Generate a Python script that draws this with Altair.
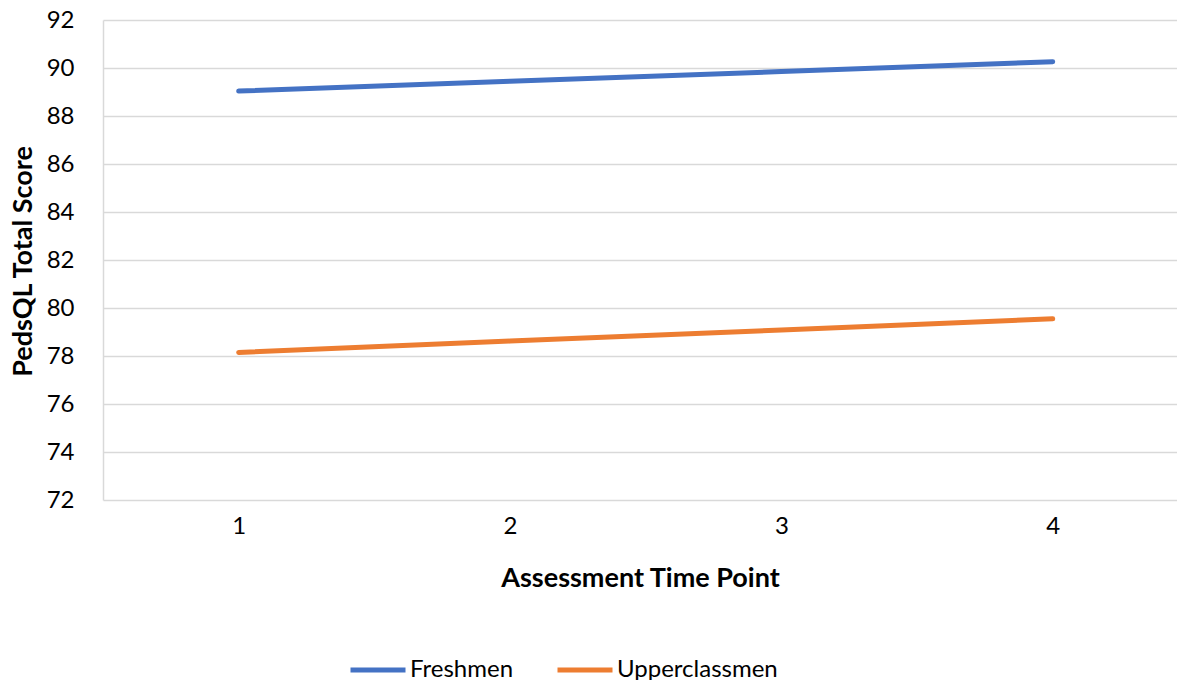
import altair as alt
import pandas as pd

time_points = [1, 2, 3, 4]
freshmen = [89.04, 89.45, 89.85, 90.26]
upperclassmen = [78.15, 78.62, 79.08, 79.55]
series_names = ["Freshmen", "Upperclassmen"]
series_colors = ["#4472C4", "#ED7D31"]
y_ticks = [72, 74, 76, 78, 80, 82, 84, 86, 88, 90, 92]

rows = []
for t, f, u in zip(time_points, freshmen, upperclassmen):
    rows.append({"time": t, "score": f, "group": series_names[0]})
    rows.append({"time": t, "score": u, "group": series_names[1]})
df = pd.DataFrame(rows)

FONT = "Lato"

chart = alt.Chart(df).mark_line(strokeWidth=5, strokeCap="round").encode(
    x=alt.X("time:Q",
            scale=alt.Scale(domain=[0.5, 4.458], nice=False, zero=False),
            axis=alt.Axis(values=time_points, format="d", title="Assessment Time Point",
                          grid=False, domain=False, ticks=False,
                          labelFont=FONT, labelFontSize=24, labelColor="#000000",
                          labelPadding=14,
                          titleFont=FONT, titleFontSize=27, titleFontWeight="bold",
                          titleColor="#000000", titleY=78, titleBaseline="middle")),
    y=alt.Y("score:Q",
            scale=alt.Scale(domain=[72, 92], nice=False, zero=False),
            axis=alt.Axis(values=y_ticks, title="PedsQL Total Score",
                          grid=True, gridColor="#D9D9D9", gridWidth=1.5,
                          domain=True, domainColor="#D9D9D9", domainWidth=1.5,
                          ticks=False, labelPadding=29,
                          labelFont=FONT, labelFontSize=24, labelColor="#000000",
                          titleFont=FONT, titleFontSize=27, titleFontWeight="bold",
                          titleColor="#000000", titleX=-80, titleY=241,
                          titleAngle=270, titleAlign="center", titleBaseline="middle")),
    color=alt.Color("group:N",
                    scale=alt.Scale(domain=series_names, range=series_colors),
                    legend=alt.Legend(title=None, orient="none", direction="horizontal",
                                      legendX=245, legendY=620,
                                      symbolType="stroke", symbolSize=3025,
                                      symbolStrokeWidth=5, labelOffset=2,
                                      columnPadding=33, labelLimit=400,
                                      labelFont=FONT, labelFontSize=24,
                                      labelColor="#000000")),
).properties(
    width=1074, height=480,
    autosize=alt.AutoSizeParams(type="none"),
    padding={"left": 95, "top": 12, "right": 0, "bottom": 180},
).configure_view(stroke=None)

chart.save("out.html", embed_options={"renderer": "svg", "actions": False})
